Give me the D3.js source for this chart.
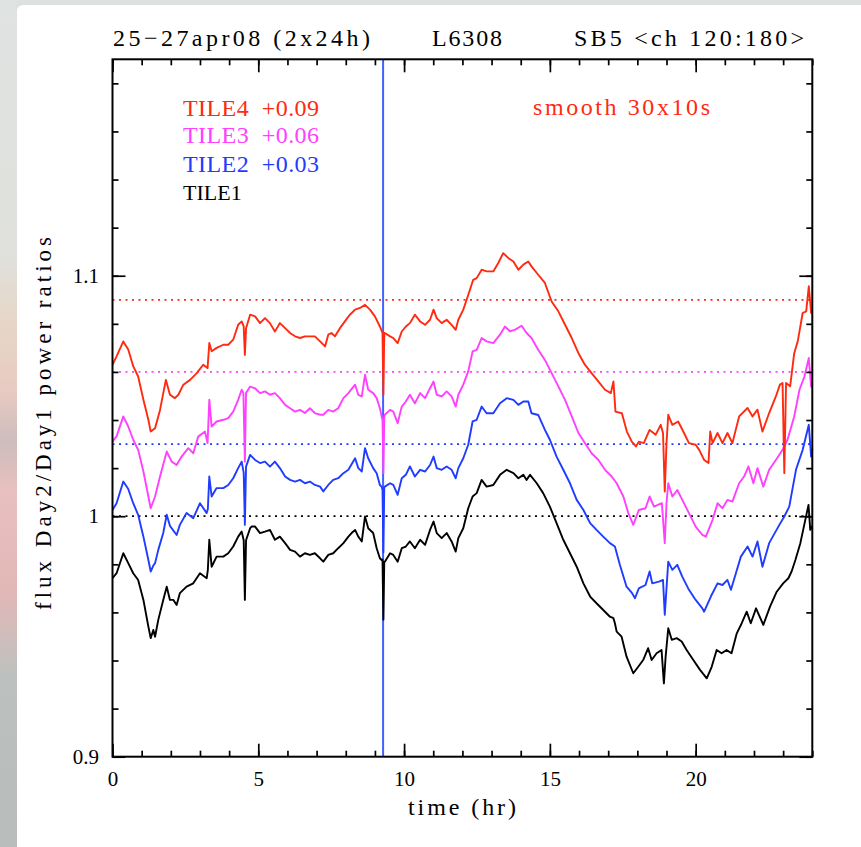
<!DOCTYPE html>
<html>
<head>
<meta charset="utf-8">
<script src="https://cdn.jsdelivr.net/npm/d3@7"></script>
<style>
  body { margin: 0; background: #fff; }
  text { font-family: "Liberation Serif", "DejaVu Serif", serif; white-space: pre; }
</style>
</head>
<body>
<script>
// ---- data (values as plotted, offsets already added) ----
const tileNames = ["TILE1", "TILE2", "TILE3", "TILE4"];
const tileOffsets = [0, 0.03, 0.06, 0.09];
const tileColors = ["#000000", "#1f3cff", "#ff40ff", "#ff2a10"];

const tile1 = [[0,0.9742],[0.14,0.9763],[0.37,0.9846],[0.54,0.9805],[0.71,0.9763],[0.88,0.9735],[1.06,0.9652],[1.23,0.9541],[1.31,0.9493],[1.40,0.9527],[1.46,0.9499],[1.57,0.9569],[1.74,0.9652],[1.86,0.9707],[1.97,0.9652],[2.09,0.9652],[2.20,0.9631],[2.31,0.968],[2.54,0.9707],[2.77,0.9721],[3.00,0.9763],[3.23,0.9742],[3.27,0.9777],[3.32,0.9902],[3.40,0.979],[3.57,0.9832],[3.80,0.9832],[3.97,0.9846],[4.14,0.9874],[4.31,0.9915],[4.43,0.9936],[4.50,0.99],[4.54,0.9652],[4.58,0.99],[4.72,0.995],[4.77,0.9957],[4.89,0.9957],[5.06,0.993],[5.23,0.9936],[5.40,0.9943],[5.57,0.9902],[5.74,0.9915],[5.92,0.9888],[6.09,0.986],[6.26,0.9853],[6.43,0.9832],[6.60,0.9846],[6.77,0.9839],[6.94,0.9846],[7.12,0.9825],[7.23,0.9811],[7.40,0.9839],[7.57,0.9846],[7.74,0.9867],[7.92,0.9888],[8.09,0.9915],[8.20,0.993],[8.32,0.9943],[8.43,0.9915],[8.55,0.9895],[8.66,0.9999],[8.77,0.995],[8.94,0.993],[9.06,0.9867],[9.17,0.9825],[9.23,0.9818],[9.26,0.982],[9.29,0.957],[9.32,0.981],[9.34,0.9811],[9.52,0.9846],[9.63,0.9839],[9.78,0.9811],[9.92,0.9867],[10.06,0.9874],[10.20,0.9895],[10.37,0.9867],[10.55,0.9902],[10.72,0.9881],[10.89,0.9943],[11.01,0.9978],[11.12,0.993],[11.29,0.9909],[11.46,0.993],[11.63,0.9895],[11.77,0.9853],[11.86,0.9909],[12.03,0.995],[12.20,1.0033],[12.35,1.0082],[12.49,1.0096],[12.66,1.0151],[12.83,1.0123],[13.06,1.013],[13.29,1.0172],[13.52,1.0193],[13.75,1.0179],[13.92,1.0158],[14.09,1.0172],[14.20,1.0151],[14.32,1.0172],[14.55,1.0137],[14.77,1.0096],[15.00,1.004],[15.23,0.9971],[15.46,0.9902],[15.69,0.9846],[15.92,0.979],[16.15,0.9721],[16.38,0.9666],[16.60,0.9638],[16.83,0.961],[17.06,0.9582],[17.18,0.9576],[17.23,0.9555],[17.29,0.952],[17.46,0.9499],[17.63,0.9416],[17.86,0.9347],[18.03,0.9374],[18.20,0.9402],[18.37,0.9451],[18.49,0.9402],[18.66,0.943],[18.83,0.9444],[18.91,0.9305],[18.97,0.9416],[19.06,0.9534],[19.18,0.9486],[19.35,0.9493],[19.52,0.9479],[19.69,0.9444],[19.92,0.9402],[20.15,0.9361],[20.38,0.9326],[20.55,0.9374],[20.72,0.9444],[20.89,0.943],[21.06,0.9444],[21.23,0.943],[21.41,0.9513],[21.58,0.9555],[21.75,0.9603],[21.89,0.9555],[22.07,0.9617],[22.32,0.9548],[22.55,0.9624],[22.78,0.9686],[23.00,0.9721],[23.18,0.9742],[23.29,0.977],[23.42,0.9818],[23.59,0.9888],[23.76,0.9985],[23.87,1.0047],[23.93,0.9943],[24.00,0.996]];

const tile2 = [[0,1.0026],[0.14,1.0054],[0.37,1.0144],[0.54,1.0113],[0.71,1.0054],[0.88,1.0006],[1.06,0.9915],[1.23,0.9818],[1.31,0.977],[1.40,0.9795],[1.46,0.9805],[1.57,0.986],[1.74,0.993],[1.86,1.0006],[1.97,0.996],[2.20,0.9922],[2.31,0.9964],[2.54,1.0013],[2.77,0.9992],[3.00,1.0054],[3.23,1.0013],[3.27,1.003],[3.32,1.0165],[3.40,1.0082],[3.57,1.0117],[3.80,1.0117],[3.97,1.013],[4.14,1.0158],[4.31,1.02],[4.43,1.0227],[4.50,1.018],[4.54,0.9964],[4.58,1.0206],[4.72,1.0255],[4.89,1.0234],[5.06,1.0221],[5.23,1.0227],[5.40,1.0206],[5.57,1.0227],[5.74,1.02],[5.92,1.0165],[6.09,1.0151],[6.26,1.0144],[6.43,1.0151],[6.60,1.0137],[6.77,1.0144],[6.94,1.013],[7.12,1.0123],[7.23,1.0103],[7.40,1.013],[7.57,1.0151],[7.74,1.0158],[7.92,1.0179],[8.09,1.0193],[8.32,1.0241],[8.43,1.02],[8.55,1.0186],[8.66,1.0283],[8.77,1.0241],[8.94,1.02],[9.06,1.0179],[9.17,1.013],[9.23,1.0123],[9.26,1.011],[9.29,0.985],[9.32,1.012],[9.34,1.0123],[9.52,1.0137],[9.63,1.013],[9.78,1.0089],[9.92,1.0158],[10.06,1.0172],[10.20,1.0207],[10.37,1.0165],[10.55,1.0193],[10.72,1.0186],[10.89,1.0213],[11.01,1.0248],[11.12,1.02],[11.29,1.0193],[11.46,1.0207],[11.63,1.0193],[11.77,1.0158],[11.86,1.02],[12.03,1.0241],[12.20,1.0297],[12.35,1.0394],[12.49,1.0401],[12.66,1.0456],[12.83,1.0428],[13.06,1.0428],[13.29,1.047],[13.52,1.0491],[13.75,1.0484],[13.92,1.0463],[14.09,1.0477],[14.26,1.0477],[14.37,1.0428],[14.60,1.0421],[14.83,1.0359],[15.00,1.0318],[15.23,1.0248],[15.46,1.0193],[15.69,1.0137],[15.92,1.0068],[16.15,1.0026],[16.38,0.9971],[16.60,0.9943],[16.83,0.9915],[17.06,0.9888],[17.23,0.9874],[17.40,0.9798],[17.63,0.9707],[17.82,0.968],[17.92,0.9659],[18.05,0.97],[18.28,0.9714],[18.42,0.977],[18.51,0.9721],[18.74,0.9728],[18.88,0.9735],[18.94,0.959],[19.00,0.97],[19.06,0.9811],[19.20,0.9777],[19.37,0.9798],[19.54,0.9749],[19.77,0.9694],[20.00,0.9652],[20.23,0.9617],[20.29,0.9603],[20.52,0.9666],[20.75,0.9721],[20.92,0.9714],[21.09,0.9735],[21.21,0.9694],[21.38,0.9763],[21.55,0.9832],[21.78,0.9874],[21.95,0.9832],[22.12,0.9895],[22.29,0.979],[22.52,0.9888],[22.87,0.9964],[23.04,0.9999],[23.21,1.004],[23.44,1.0193],[23.67,1.0276],[23.88,1.038],[23.96,1.0248],[24.00,1.028]];

const tile3 = [[0,1.0311],[0.14,1.0332],[0.37,1.0415],[0.54,1.0373],[0.71,1.0318],[0.88,1.0276],[1.06,1.0186],[1.23,1.0082],[1.31,1.0033],[1.46,1.0082],[1.63,1.0165],[1.86,1.0269],[2.03,1.0227],[2.20,1.0213],[2.37,1.0248],[2.60,1.0283],[2.77,1.0262],[2.94,1.0331],[3.17,1.0352],[3.26,1.0304],[3.32,1.0484],[3.40,1.0373],[3.57,1.0394],[3.80,1.0401],[3.97,1.0408],[4.14,1.0435],[4.31,1.0484],[4.43,1.0526],[4.49,1.0512],[4.54,1.0227],[4.58,1.0512],[4.72,1.0539],[4.89,1.0532],[5.06,1.0512],[5.23,1.0519],[5.40,1.0505],[5.57,1.0512],[5.74,1.0491],[5.92,1.0463],[6.09,1.0449],[6.26,1.0435],[6.43,1.0442],[6.60,1.0429],[6.77,1.0449],[6.94,1.0429],[7.12,1.0422],[7.23,1.0422],[7.40,1.0442],[7.57,1.0435],[7.74,1.0449],[7.92,1.0491],[8.09,1.0512],[8.32,1.0547],[8.43,1.0505],[8.55,1.0498],[8.66,1.0588],[8.77,1.0526],[8.94,1.0512],[9.06,1.0491],[9.17,1.0449],[9.23,1.0415],[9.26,1.04],[9.29,1.0179],[9.32,1.041],[9.34,1.0422],[9.52,1.0442],[9.63,1.0435],[9.78,1.0387],[9.92,1.0456],[10.06,1.0477],[10.20,1.0505],[10.37,1.047],[10.55,1.0512],[10.72,1.0491],[10.89,1.0532],[11.01,1.056],[11.12,1.0505],[11.29,1.0498],[11.46,1.0519],[11.63,1.0498],[11.77,1.0456],[11.86,1.0505],[12.03,1.0547],[12.20,1.0602],[12.35,1.0685],[12.49,1.0692],[12.66,1.0741],[12.83,1.0727],[13.06,1.072],[13.29,1.0755],[13.46,1.0789],[13.63,1.0769],[13.81,1.0776],[14.03,1.0792],[14.20,1.0762],[14.37,1.0741],[14.60,1.0692],[14.83,1.065],[15.06,1.0595],[15.29,1.054],[15.52,1.0484],[15.75,1.0415],[15.98,1.0346],[16.20,1.0304],[16.43,1.0262],[16.66,1.0235],[16.89,1.0193],[17.12,1.0165],[17.29,1.0137],[17.52,1.0082],[17.69,1.0013],[17.86,0.9964],[18.05,1.0026],[18.28,1.0033],[18.42,1.0082],[18.57,1.004],[18.84,1.0054],[18.94,0.9888],[19.00,1.0054],[19.06,1.0137],[19.20,1.0082],[19.37,1.0109],[19.54,1.0068],[19.77,1.0013],[20.00,0.9957],[20.23,0.9922],[20.35,0.9915],[20.58,0.9985],[20.75,1.0054],[20.92,1.0033],[21.09,1.0068],[21.26,1.0061],[21.49,1.0137],[21.66,1.0165],[21.81,1.0207],[21.98,1.0137],[22.12,1.02],[22.32,1.0123],[22.52,1.0193],[22.75,1.0234],[22.98,1.0276],[23.15,1.0318],[23.38,1.0415],[23.56,1.0526],[23.73,1.0581],[23.88,1.0658],[23.96,1.0539],[24.00,1.056]];

const tile4 = [[0,1.063],[0.14,1.0665],[0.37,1.0727],[0.54,1.0693],[0.71,1.0624],[0.88,1.0581],[1.06,1.0484],[1.23,1.0401],[1.31,1.0352],[1.46,1.0366],[1.63,1.0442],[1.83,1.0567],[1.97,1.0505],[2.14,1.0491],[2.26,1.0505],[2.43,1.0547],[2.66,1.0567],[2.89,1.0595],[3.11,1.063],[3.26,1.0616],[3.32,1.072],[3.40,1.0686],[3.57,1.07],[3.80,1.0713],[3.97,1.0713],[4.14,1.0734],[4.31,1.0796],[4.43,1.081],[4.50,1.0789],[4.54,1.0671],[4.58,1.0782],[4.72,1.0838],[4.89,1.0831],[5.06,1.0803],[5.23,1.0824],[5.40,1.0803],[5.57,1.0768],[5.74,1.0803],[5.92,1.0782],[6.09,1.0762],[6.26,1.0748],[6.43,1.0741],[6.60,1.0748],[6.77,1.0748],[6.94,1.0748],[7.12,1.0727],[7.29,1.0706],[7.40,1.0755],[7.51,1.0762],[7.63,1.0748],[7.80,1.0782],[7.97,1.081],[8.14,1.0838],[8.32,1.0859],[8.49,1.0866],[8.66,1.0879],[8.83,1.0859],[9.00,1.0831],[9.17,1.0789],[9.26,1.0762],[9.29,1.0505],[9.32,1.0762],[9.34,1.0762],[9.52,1.0748],[9.63,1.0741],[9.78,1.072],[9.92,1.0768],[10.06,1.0789],[10.20,1.0803],[10.37,1.0838],[10.55,1.081],[10.72,1.0796],[10.89,1.0817],[11.01,1.0859],[11.12,1.0824],[11.29,1.0803],[11.46,1.0817],[11.63,1.0796],[11.77,1.0775],[11.86,1.0817],[12.03,1.0859],[12.20,1.092],[12.37,1.0983],[12.49,1.099],[12.66,1.1025],[12.83,1.1018],[13.06,1.1018],[13.23,1.1053],[13.40,1.1094],[13.58,1.1073],[13.75,1.1059],[13.92,1.1025],[14.09,1.1046],[14.26,1.1059],[14.37,1.1039],[14.60,1.1004],[14.83,1.097],[15.06,1.0893],[15.29,1.0852],[15.52,1.0796],[15.75,1.0741],[15.98,1.0678],[16.20,1.063],[16.43,1.0595],[16.66,1.0561],[16.89,1.0526],[17.09,1.0512],[17.18,1.056],[17.25,1.0435],[17.47,1.0428],[17.64,1.0352],[17.81,1.031],[17.95,1.029],[18.05,1.031],[18.22,1.0304],[18.42,1.0359],[18.63,1.0339],[18.80,1.038],[18.88,1.0346],[18.94,1.0103],[19.00,1.0304],[19.06,1.0422],[19.20,1.038],[19.40,1.0394],[19.60,1.0346],[19.77,1.0304],[20.00,1.0297],[20.12,1.0276],[20.29,1.0234],[20.44,1.0221],[20.50,1.0352],[20.58,1.0304],[20.75,1.0346],[20.92,1.0304],[21.09,1.0346],[21.26,1.0304],[21.49,1.0415],[21.78,1.045],[21.95,1.0415],[22.12,1.0443],[22.29,1.0352],[22.52,1.0429],[22.75,1.0498],[22.89,1.0547],[22.98,1.0554],[23.04,1.0179],[23.10,1.0554],[23.24,1.054],[23.38,1.0678],[23.50,1.0727],[23.67,1.0845],[23.79,1.0852],[23.88,1.0956],[23.96,1.0845],[24.00,1.086]];

const series = [tile1, tile2, tile3, tile4];

const markTime = 9.28;   // vertical marker (hr)
const xMajor = [0, 5, 10, 15, 20];
const xMinor = d3.range(0, 25);
const yMajor = [0.9, 1, 1.1];
const yMinor = d3.range(0, 15).map(i => 0.9 + i * 0.02);

// ---- layout ----
const W = 861, H = 847;
const svg = d3.select("body").append("svg")
    .attr("width", W)
    .attr("height", H);

// page background (grey strips around the white panel)
const grad = svg.append("defs").append("linearGradient")
    .attr("id", "edge").attr("x1", 0).attr("x2", 0).attr("y1", 0).attr("y2", 1);
[[0, "#dfe3e1"], [0.3, "#e0e1dc"], [0.38, "#e6d6c8"], [0.46, "#e8cbc2"], [0.52, "#cdbdbc"],
 [0.58, "#e8c0bf"], [0.7, "#e2b8b7"], [0.8, "#bcc1bf"], [1, "#b8bdbb"]]
    .forEach(s => grad.append("stop").attr("offset", s[0]).attr("stop-color", s[1]));
svg.append("rect").attr("width", W).attr("height", H).attr("fill", "#dde2e0");
svg.append("rect").attr("width", 17).attr("height", H).attr("fill", "url(#edge)");
svg.append("rect").attr("x", 17).attr("y", 5).attr("width", W).attr("height", H + 20)
    .attr("rx", 6).attr("fill", "#fff");

const x = d3.scaleLinear().domain([0, 24]).range([112.5, 812.3]);
const y = d3.scaleLinear().domain([0.9, 1.19]).range([756.7, 59.3]);

// dotted reference levels 1 + offset
svg.selectAll(".ref")
    .data(tileOffsets)
    .join("line")
    .attr("x1", x(0)).attr("x2", x(24))
    .attr("y1", d => y(1 + d)).attr("y2", d => y(1 + d))
    .attr("stroke", (d, i) => tileColors[i])
    .attr("stroke-width", 1.7)
    .attr("stroke-dasharray", "2,4.5");

// vertical marker
svg.append("line")
    .attr("x1", x(markTime)).attr("x2", x(markTime))
    .attr("y1", y(0.9)).attr("y2", y(1.19))
    .attr("stroke", "#4262ff")
    .attr("stroke-width", 2);

// curves
const line = d3.line()
    .x(d => x(d[0]))
    .y(d => y(d[1]));
svg.selectAll(".tile")
    .data(series)
    .join("path")
    .attr("d", line)
    .attr("fill", "none")
    .attr("stroke", (d, i) => tileColors[i])
    .attr("stroke-width", 1.9)
    .attr("stroke-linejoin", "round");

// ---- axes: ticks inside on all four sides ----
function styleAxis(g) {
    g.select(".domain").remove();
    g.selectAll(".tick line").attr("stroke", "#000").attr("stroke-width", 1.7);
    g.selectAll("text").attr("fill", "#000").style("font-size", "21px")
        .style("font-family", "'Liberation Serif', serif");
}
svg.append("g").attr("transform", `translate(0,${y(0.9)})`)
    .call(d3.axisBottom(x).tickValues(xMinor).tickSize(-6).tickFormat("")).call(styleAxis);
svg.append("g").attr("transform", `translate(0,${y(0.9)})`)
    .call(d3.axisBottom(x).tickValues(xMajor).tickSize(-13).tickPadding(14).tickFormat(d3.format("d"))).call(styleAxis);
svg.append("g").attr("transform", `translate(0,${y(1.19)})`)
    .call(d3.axisTop(x).tickValues(xMinor).tickSize(-6).tickFormat("")).call(styleAxis);
svg.append("g").attr("transform", `translate(0,${y(1.19)})`)
    .call(d3.axisTop(x).tickValues(xMajor).tickSize(-13).tickFormat("")).call(styleAxis);

svg.append("g").attr("transform", `translate(${x(0)},0)`)
    .call(d3.axisLeft(y).tickValues(yMinor).tickSize(-6).tickFormat("")).call(styleAxis);
svg.append("g").attr("transform", `translate(${x(0)},0)`)
    .call(d3.axisLeft(y).tickValues(yMajor).tickSize(-13).tickPadding(13.5).tickFormat(d => d3.format("")(+d.toFixed(2)))).call(styleAxis);
svg.append("g").attr("transform", `translate(${x(24)},0)`)
    .call(d3.axisRight(y).tickValues(yMinor).tickSize(-6).tickFormat("")).call(styleAxis);
svg.append("g").attr("transform", `translate(${x(24)},0)`)
    .call(d3.axisRight(y).tickValues(yMajor).tickSize(-13).tickFormat("")).call(styleAxis);

// frame
svg.append("rect")
    .attr("x", x(0)).attr("y", y(1.19))
    .attr("width", x(24) - x(0)).attr("height", y(0.9) - y(1.19))
    .attr("fill", "none").attr("stroke", "#000").attr("stroke-width", 2);

// ---- text ----
function label(txt, px, py, len, size, color) {
    const t = svg.append("text")
        .attr("x", px).attr("y", py)
        .attr("fill", color || "#000")
        .style("font-size", size + "px")
        .text(txt);
    if (len) t.attr("textLength", len).attr("lengthAdjust", "spacing");
    return t;
}
label("25\u221227apr08 (2x24h)", 113, 46, 257, 24);
label("L6308", 432, 46, 70, 24);
label("SB5 <ch 120:180>", 574, 46, 230, 24);

const legendY = [199.5, 171.7, 143.3, 116];
tileNames.forEach((name, i) => {
    if (i) label(`${name}  +${tileOffsets[i].toFixed(2)}`, 183, legendY[i], 136, 24, tileColors[i]);
    else label(name, 183, legendY[i], null, 22, tileColors[i]);
});
label("smooth 30x10s", 533, 115, 177, 24, tileColors[3]);

label("time (hr)", 408, 815, 108, 24);
label("flux Day2/Day1 power ratios", 0, 0, 373, 23)
    .attr("transform", "translate(51,610) rotate(-90)");
</script>
</body>
</html>
